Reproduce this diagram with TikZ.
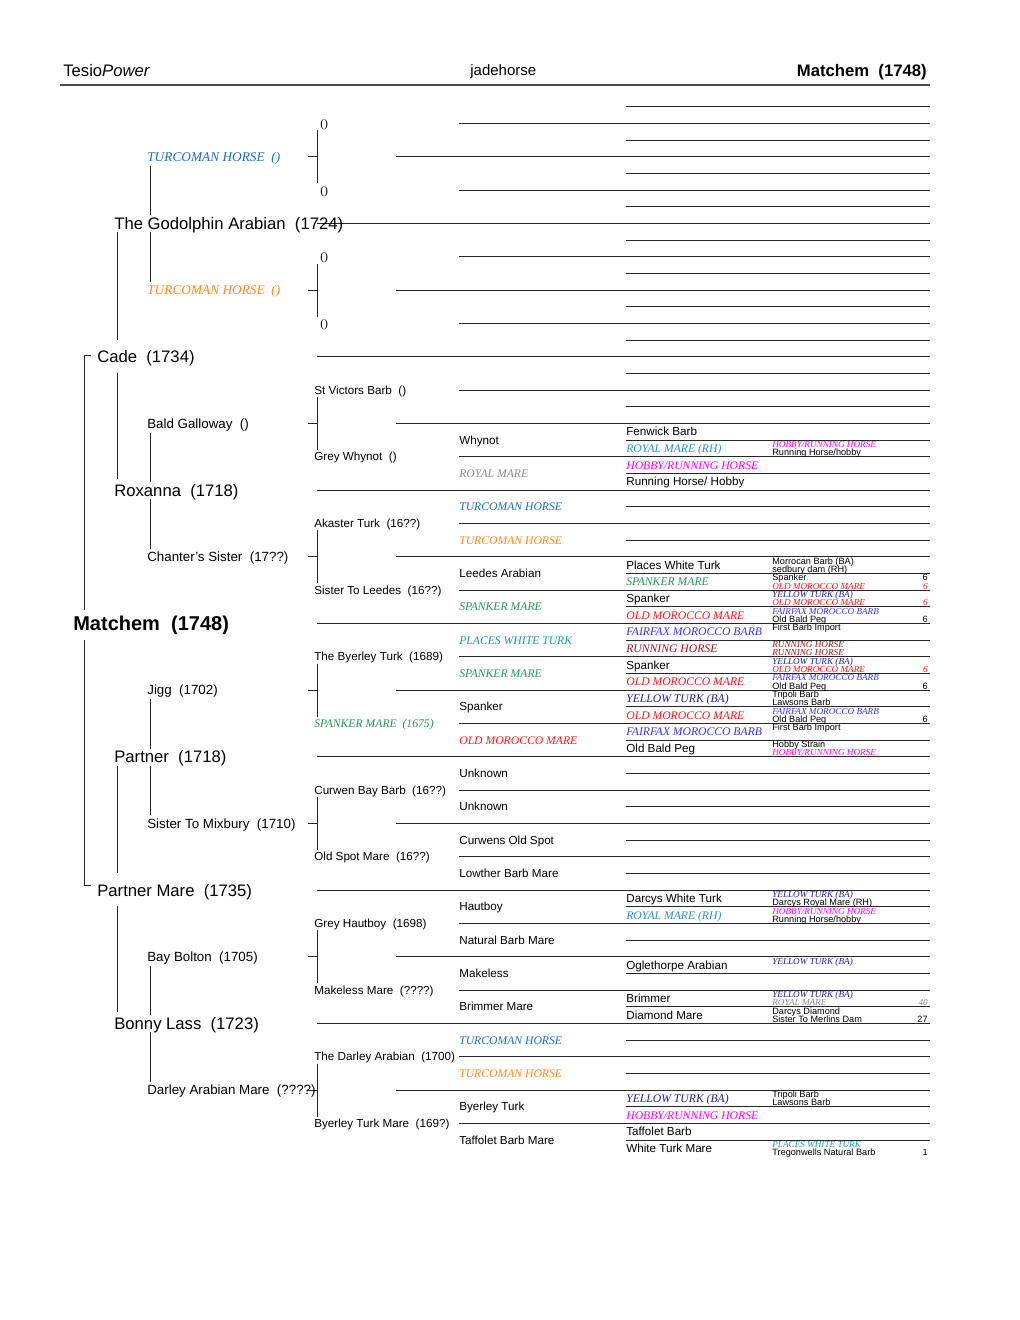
\documentclass[tikz,border=0pt]{standalone}
\usepackage{fontspec}
\setmainfont{Liberation Sans}
\newfontfamily\tms{Liberation Serif}
\definecolor{cturcb}{RGB}{31,110,190}
\definecolor{cturco}{RGB}{255,140,30}
\definecolor{croyb}{RGB}{45,145,205}
\definecolor{chob}{RGB}{255,0,255}
\definecolor{croyg}{RGB}{140,140,140}
\definecolor{cspank}{RGB}{40,150,90}
\definecolor{cplaces}{RGB}{30,155,160}
\definecolor{cmor}{RGB}{255,25,25}
\definecolor{cfair}{RGB}{55,55,240}
\definecolor{crun}{RGB}{150,25,25}
\definecolor{cyel}{RGB}{35,35,150}
\tikzset{
  g0/.style={font=\fontsize{12}{14}\selectfont\bfseries, yshift=-4.3pt},
  g1/.style={font=\fontsize{10}{12}\selectfont, yshift=-3.6pt},
  g3/.style={font=\fontsize{8}{10}\selectfont, yshift=-2.9pt},
  g4/.style={font=\fontsize{7}{8}\selectfont, yshift=-2.5pt},
  g7/.style={font=\fontsize{5.5}{6}\selectfont, yshift=-2pt},
  it/.style={execute at begin node=\tms\itshape},
  ser/.style={execute at begin node=\tms},
  bl/.style={},
  turb/.style={it,text=cturcb},
  turo/.style={it,text=cturco},
  royb/.style={it,text=croyb},
  hob/.style={it,text=chob},
  royg/.style={it,text=croyg},
  spk/.style={it,text=cspank},
  plc/.style={it,text=cplaces},
  mor/.style={it,text=cmor},
  fair/.style={it,text=cfair},
  run/.style={it,text=crun},
  yel/.style={it,text=cyel},
  rule/.style={line width=0.6pt, draw=black!85},
}
\begin{document}
\begin{tikzpicture}[x=0.6pt,y=-0.6pt, every node/.style={inner sep=0pt, anchor=base west}]
\fill[white] (0,0) rectangle (1020,1320);
\useasboundingbox (0,0) rectangle (1020,1320);

% header
\node[g1] (hl) at (63,70) {Tesio\textit{Power}};
\node[font=\fontsize{9}{10}\selectfont, yshift=-3.2pt] (hm) at (470,70) {jadehorse};
\node[font=\fontsize{10}{12}\selectfont\bfseries, yshift=-3.6pt, anchor=base east] (hr) at (927,70) {Matchem~~(1748)};
\draw[line width=0.8pt, draw=black!70] (60,85) -- (930,85);

% rulings
\foreach \q in {0,...,31} \draw[rule] (626,{106.667+33.333*\q}) -- (930,{106.667+33.333*\q});
\foreach \q in {0,...,15} \draw[rule] (459,{123.333+66.667*\q}) -- (930,{123.333+66.667*\q});
\foreach \q in {0,...,7} {
  \pgfmathsetmacro\yy{156.667+133.333*\q}
  \draw[rule] (396,\yy) -- (930,\yy);
  \draw[rule] (308,\yy) -- (317,\yy);
  \draw[rule] (317,\yy-26.5) -- (317,\yy+26.5);
}
\foreach \q in {0,...,3} {
  \pgfmathsetmacro\yy{223.333+266.667*\q}
  \draw[rule] (317,\yy) -- (930,\yy);
  \draw[rule] (150,\yy-57.5) -- (150,\yy-8);
  \draw[rule] (150,\yy+9) -- (150,\yy+58.5);
}
\foreach \yy in {356.667,890} {
  \draw[rule] (317,\yy) -- (930,\yy);
  \draw[rule] (117,\yy-124.5) -- (117,\yy-17);
  \draw[rule] (117,\yy+16) -- (117,\yy+122);
}
\draw[rule] (317,623.333) -- (930,623.333);
\draw[rule] (91,355) -- (84,355) -- (84,610);
\draw[rule] (84,640) -- (84,885) -- (91,885);

% generation 0-2
\node[g0] (n0) at (73,623.333) {Matchem~~(1748)};
\node[g1] (n1a) at (97,356.667) {Cade~~(1734)};
\node[g1] (n1b) at (97,890) {Partner Mare~~(1735)};
\foreach \q/\tx in {0/The Godolphin Arabian~~(1724), 1/Roxanna~~(1718), 2/Partner~~(1718), 3/Bonny Lass~~(1723)}
  \node[g1] (n2-\q) at (114,{223.333+266.667*\q}) {\tx};

% generation 3
\foreach \q/\tx/\st in {0/TURCOMAN HORSE~~()/turb, 1/TURCOMAN HORSE~~()/turo, 2/Bald Galloway~~()/bl,
  3/Chanter's Sister~~(17??)/bl, 4/Jigg~~(1702)/bl, 5/Sister To Mixbury~~(1710)/bl,
  6/Bay Bolton~~(1705)/bl, 7/Darley Arabian Mare~~(????)/bl}
  \node[g3,\st] (n3-\q) at (147,{156.667+133.333*\q}) {\tx};

% generation 4
\foreach \q/\tx/\st/\xx in {0/()/ser/320, 1/()/ser/320, 2/()/ser/320, 3/()/ser/320,
  4/St Victors Barb~~()/bl/314, 5/Grey Whynot~~()/bl/314, 6/Akaster Turk~~(16??)/bl/314,
  7/Sister To Leedes~~(16??)/bl/314, 8/The Byerley Turk~~(1689)/bl/314,
  9/SPANKER MARE~~(1675)/spk/314, 10/Curwen Bay Barb~~(16??)/bl/314,
  11/Old Spot Mare~~(16??)/bl/314, 12/Grey Hautboy~~(1698)/bl/314,
  13/Makeless Mare~~(????)/bl/314, 14/The Darley Arabian~~(1700)/bl/314,
  15/Byerley Turk Mare~~(169?)/bl/314}
  \node[g4,\st] (n4-\q) at (\xx,{123.333+66.667*\q}) {\tx};

% generation 5
\foreach \q/\tx/\st in {10/Whynot/bl, 11/ROYAL MARE/royg, 12/TURCOMAN HORSE/turb, 13/TURCOMAN HORSE/turo,
  14/Leedes Arabian/bl, 15/SPANKER MARE/spk, 16/PLACES WHITE TURK/plc, 17/SPANKER MARE/spk,
  18/Spanker/bl, 19/OLD MOROCCO MARE/mor, 20/Unknown/bl, 21/Unknown/bl,
  22/Curwens Old Spot/bl, 23/Lowther Barb Mare/bl, 24/Hautboy/bl, 25/Natural Barb Mare/bl,
  26/Makeless/bl, 27/Brimmer Mare/bl, 28/TURCOMAN HORSE/turb, 29/TURCOMAN HORSE/turo,
  30/Byerley Turk/bl, 31/Taffolet Barb Mare/bl}
  \node[g4,\st] (n5-\q) at (459,{106.667+33.333*\q}) {\tx};

% generation 6
\foreach \q/\tx/\st in {20/Fenwick Barb/bl, 21/ROYAL MARE (RH)/royb, 22/{HOBBY/RUNNING HORSE}/hob,
  23/{Running Horse/ Hobby}/bl, 28/Places White Turk/bl, 29/SPANKER MARE/spk, 30/Spanker/bl,
  31/OLD MOROCCO MARE/mor, 32/FAIRFAX MOROCCO BARB/fair, 33/RUNNING HORSE/run, 34/Spanker/bl,
  35/OLD MOROCCO MARE/mor, 36/YELLOW TURK (BA)/yel, 37/OLD MOROCCO MARE/mor,
  38/FAIRFAX MOROCCO BARB/fair, 39/Old Bald Peg/bl, 48/Darcys White Turk/bl,
  49/ROYAL MARE (RH)/royb, 52/Oglethorpe Arabian/bl, 54/Brimmer/bl, 55/Diamond Mare/bl,
  60/YELLOW TURK (BA)/yel, 61/{HOBBY/RUNNING HORSE}/hob, 62/Taffolet Barb/bl, 63/White Turk Mare/bl}
  \node[g4,\st] (n6-\q) at (626,{98.333+16.6667*\q}) {\tx};

% generation 7
\foreach \q/\tx/\st in {42/{HOBBY/RUNNING HORSE}/hob, 43/{Running Horse/hobby}/bl,
  56/Morrocan Barb (BA)/bl, 57/sedbury dam (RH)/bl, 58/Spanker/bl, 59/OLD MOROCCO MARE/mor,
  60/YELLOW TURK (BA)/yel, 61/OLD MOROCCO MARE/mor, 62/FAIRFAX MOROCCO BARB/fair,
  63/Old Bald Peg/bl, 64/First Barb Import/bl, 66/RUNNING HORSE/run, 67/RUNNING HORSE/run,
  68/YELLOW TURK (BA)/yel, 69/OLD MOROCCO MARE/mor, 70/FAIRFAX MOROCCO BARB/fair,
  71/Old Bald Peg/bl, 72/Tripoli Barb/bl, 73/Lawsons Barb/bl, 74/FAIRFAX MOROCCO BARB/fair,
  75/Old Bald Peg/bl, 76/First Barb Import/bl, 78/Hobby Strain/bl, 79/{HOBBY/RUNNING HORSE}/hob,
  96/YELLOW TURK (BA)/yel, 97/Darcys Royal Mare (RH)/bl, 98/{HOBBY/RUNNING HORSE}/hob,
  99/{Running Horse/hobby}/bl, 104/YELLOW TURK (BA)/yel, 108/YELLOW TURK (BA)/yel,
  109/ROYAL MARE/royg, 110/Darcys Diamond/bl, 111/Sister To Merlins Dam/bl,
  120/Tripoli Barb/bl, 121/Lawsons Barb/bl, 126/PLACES WHITE TURK/plc,
  127/Tregonwells Natural Barb/bl}
  \node[g7,\st] (n7-\q) at (772,{94.167+8.3333*\q}) {\tx};

% counts
\foreach \q/\tx/\st in {58/6/bl, 59/6/mor, 61/6/mor, 63/6/bl, 69/6/mor, 71/6/bl, 75/6/bl,
  109/40/royg, 111/27/bl, 127/1/bl}
  \node[g7,\st,anchor=base east] (c7-\q) at (928,{94.167+8.3333*\q}) {\tx};
\end{tikzpicture}
\end{document}
